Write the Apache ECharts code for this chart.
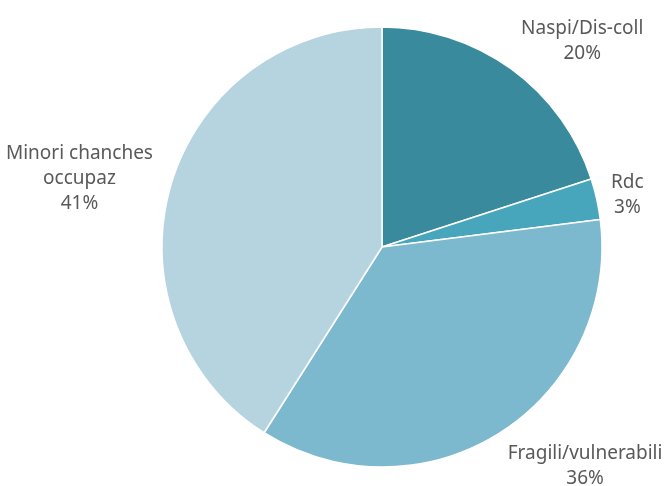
<!DOCTYPE html>
<html>
<head>
<meta charset="utf-8">
<script src="https://cdn.jsdelivr.net/npm/echarts@6/dist/echarts.min.js"></script>
<style>
  html, body { margin: 0; padding: 0; background: #fff; }
  #main { width: 666px; height: 486px; }
</style>
</head>
<body>
<div id="main"></div>
<script>
// categorie e valori (percentuali)
var categories = ['Naspi/Dis-coll', 'Rdc', 'Fragili/vulnerabili', 'Minori chanches\noccupaz'];
var values = [20, 3, 36, 41];
var colors = ['#3a8a9d', '#47a6bc', '#7cb9cf', '#b5d4df'];
// distanza etichette dal bordo della torta
var labelGap = [37, 27, 37, 31];

var chart = echarts.init(document.getElementById('main'));

var seriesData = [];
for (var i = 0; i < categories.length; i++) {
    seriesData.push({
        name: categories[i],
        value: values[i],
        itemStyle: { color: colors[i] },
        labelLine: { length: labelGap[i] }
    });
}

chart.setOption({
    animation: false,
    series: [{
        type: 'pie',
        center: [382, 247],
        radius: [0, 220],
        startAngle: 90,
        clockwise: true,
        avoidLabelOverlap: false,
        data: seriesData,
        itemStyle: { borderColor: '#fff', borderWidth: 1.5 },
        label: {
            show: true,
            position: 'outside',
            formatter: '{b}\n{c}%',
            fontFamily: 'Noto Sans',
            fontSize: 19,
            lineHeight: 25,
            color: '#595959',
            distanceToLabelLine: -12
        },
        labelLine: { show: false, length: 20, length2: 0 },
        emphasis: { disabled: true },
        // centra il testo delle etichette come in Excel
        labelLayout: function (params) {
            var r = params.labelRect;
            return {
                x: r.x + r.width / 2,
                y: r.y + r.height / 2 + 2,
                align: 'center',
                verticalAlign: 'middle'
            };
        }
    }]
});
</script>
</body>
</html>
